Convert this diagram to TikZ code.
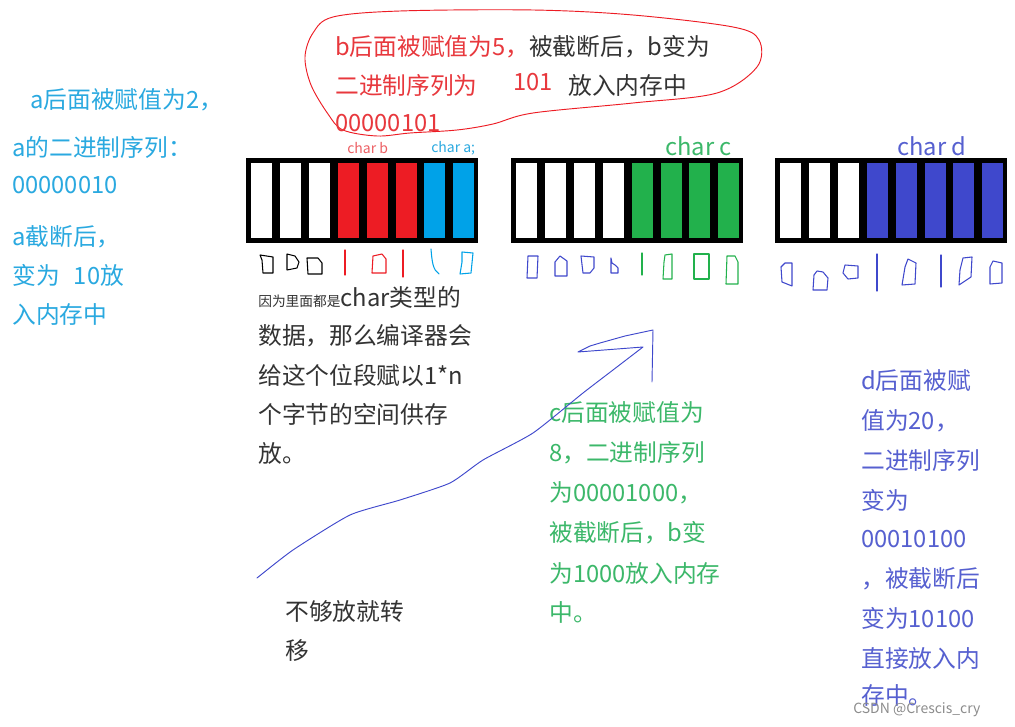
\documentclass[tikz,border=0pt]{standalone}
\usepackage{fontspec}
\setmainfont{Noto Sans CJK SC}
\definecolor{cellred}{HTML}{ED1C24}
\definecolor{cellblue}{HTML}{00A2E8}
\definecolor{cellgreen}{HTML}{22B14C}
\definecolor{celldblue}{HTML}{3F48CC}
\definecolor{txtlblue}{HTML}{2AA9E0}
\definecolor{txtred}{HTML}{E8383D}
\definecolor{txtgreen}{HTML}{3CB86A}
\definecolor{txtdblue}{HTML}{5660D0}
\definecolor{txtblack}{HTML}{333333}
\newcommand\memrow[2]{%
  \fill[black] (#1,158) rectangle ++(232,85);
  \foreach \cc [count=\ii from 0] in {#2} {\fill[\cc] ({#1+5+\ii*28.9},163) rectangle ++(21,75);}
}
\begin{document}
\begin{tikzpicture}[x=0.75pt,y=-0.75pt,
  txt/.style={anchor=west,inner sep=0pt,font=\fontsize{17.8}{20}\selectfont},
  smalltxt/.style={anchor=west,inner sep=0pt,font=\fontsize{10.5}{12}\selectfont},
  pen/.style={line width=0.8pt,line join=round,line cap=round}]
\useasboundingbox[fill=white] (0,0) rectangle (1015,727);

% memory rows
\memrow{246}{white,white,white,cellred,cellred,cellred,cellblue,cellblue}
\memrow{511}{white,white,white,white,cellgreen,cellgreen,cellgreen,cellgreen}
\memrow{775}{white,white,white,celldblue,celldblue,celldblue,celldblue,celldblue}

% row labels
\node[smalltxt,text=txtred!80] (lb) at (347,148) {char b};
\node[smalltxt,text=txtlblue] (la) at (431,148) {char a;};
\node[txt,text=txtgreen] (lc) at (665,146) {char c};
\node[txt,text=txtdblue] (ld) at (897,146) {char d};

% hand-drawn marks under row 1
\draw[pen,black] (260,255)--(273,257)--(273,273)--(263,273)--(262,260)--cycle;
\draw[pen,black] (287,254)--(295,256)--(299,262)--(297,268)--(287,270)--cycle;
\draw[pen,black] (307,258)--(318,258)--(322,263)--(322,274)--(308,274)--cycle;
\draw[pen,cellred] (345,250)--(345,275);
\draw[pen,cellred] (373,256)--(382,254)--(386,259)--(386,273)--(372,273)--cycle;
\draw[pen,cellred] (403,250)--(403,277);
\draw[pen,cellblue] (431,249) .. controls (432,262) and (433,270) .. (439,274);
\draw[pen,cellblue] (462,252)--(473,253)--(471,273)--(460,274)--(462,262)--cycle;
% row 2
\draw[pen,celldblue] (528,256)--(538,256)--(537,278)--(527,278)--cycle;
\draw[pen,celldblue] (555,262)--(560,256)--(567,261)--(567,276)--(555,276)--cycle;
\draw[pen,celldblue] (581,256)--(594,257)--(594,268)--(590,273)--(583,273)--cycle;
\draw[pen,celldblue] (611,258)--(612,263)--(615,265)--(618,268)--(618,273)--(611,273)--cycle;
\draw[pen,cellgreen] (642,253)--(642,275);
\draw[pen,cellgreen] (665,255)--(672,254)--(672,279)--(663,279)--(664,262)--cycle;
\draw[pen,cellgreen] (694,254)--(709,254)--(709,279)--(694,279)--cycle;
\draw[pen,cellgreen] (727,256)--(735,256)--(738,262)--(738,284)--(726,284)--cycle;
% row 3
\draw[pen,celldblue] (785,263)--(792,263)--(792,286)--(782,282)--(781,267)--cycle;
\draw[pen,celldblue] (817,271)--(823,272)--(828,278)--(827,290)--(813,290)--(814,275)--cycle;
\draw[pen,celldblue] (845,265)--(858,266)--(858,278)--(848,279)--(843,273)--cycle;
\draw[pen,celldblue] (877,254)--(877,291);
\draw[pen,celldblue] (908,259)--(916,263)--(915,284)--(902,285)--(905,267)--cycle;
\draw[pen,celldblue] (941,255)--(941,287);
\draw[pen,celldblue] (963,258)--(972,257)--(971,277)--(959,285)--(960,270)--cycle;
\draw[pen,celldblue] (993,261)--(1002,263)--(1002,283)--(990,284)--(990,267)--cycle;

% red hand-drawn ellipse
\draw[pen,cellred,line width=0.7pt] plot[smooth cycle,tension=0.55] coordinates {
 (333,17) (400,11) (533,10) (633,15) (733,27) (759,40) (757,67) (717,93)
 (633,103) (533,113) (493,124) (457,130) (410,133) (377,136) (343,130)
 (328,114) (311,85) (305,57) (313,33)};

% top text
\node[txt,text=txtblack] (t1) at (335,47) {{\color{txtred}b后面被赋值为5，}被截断后，b变为};
\node[txt,text=txtred] (t2) at (335,85) {二进制序列为};
\node[txt,text=txtred] (t2b) at (513,82) {101};
\node[txt,text=txtblack] (t2c) at (568,85) {放入内存中};
\node[txt,text=txtred] (t3) at (335,123) {00000101};

% left text
\node[txt,text=txtlblue] (a1) at (30,100) {a后面被赋值为2，};
\node[txt,text=txtlblue] (a2) at (12,147) {a的二进制序列：};
\node[txt,text=txtlblue] (a3) at (12,185) {00000010};
\node[txt,text=txtlblue] (a4) at (12,237) {a截断后，};
\node[txt,text=txtlblue] (a5) at (12,275) {变为\hspace{0.6em}10放};
\node[txt,text=txtlblue] (a6) at (12,315) {入内存中};

% middle black text
\node[txt,text=txtblack] (m1) at (258,297) {{\fontsize{10.3}{12}\selectfont 因为里面都是}char类型的};
\node[txt,text=txtblack] (m2) at (258,336) {数据，那么编译器会};
\node[txt,text=txtblack] (m3) at (258,375) {给这个位段赋以1*n};
\node[txt,text=txtblack] (m4) at (258,414) {个字节的空间供存};
\node[txt,text=txtblack] (m5) at (258,453) {放。};

% c text
\node[txt,text=txtgreen] (c1) at (549,413) {c后面被赋值为};
\node[txt,text=txtgreen] (c2) at (549,453) {8，二进制序列};
\node[txt,text=txtgreen] (c3) at (549,493) {为00001000，};
\node[txt,text=txtgreen] (c4) at (549,533) {被截断后，b变};
\node[txt,text=txtgreen] (c5) at (549,573) {为1000放入内存};
\node[txt,text=txtgreen] (c6) at (549,612) {中。};

% d text
\node[txt,text=txtdblue] (d1) at (861,381) {d后面被赋};
\node[txt,text=txtdblue] (d2) at (861,421) {值为20，};
\node[txt,text=txtdblue] (d3) at (861,460) {二进制序列};
\node[txt,text=txtdblue] (d4) at (861,500) {变为};
\node[txt,text=txtdblue] (d5) at (861,539) {00010100};
\node[txt,text=txtdblue] (d6) at (861,579) {，被截断后};
\node[txt,text=txtdblue] (d7) at (861,618) {变为10100};
\node[txt,text=txtdblue] (d8) at (861,658) {直接放入内};
\node[txt,text=txtdblue] (d9) at (861,695) {存中。};

% bottom text
\node[txt,text=txtblack] (s1) at (285,611) {不够放就转};
\node[txt,text=txtblack] (s2) at (285,651) {移};

% hand-drawn arrow
\draw[pen,celldblue,line width=0.7pt] plot[smooth,tension=0.35] coordinates {
 (257,578) (293,550) (350,515) (400,500) (450,483) (483,460) (533,433)
 (583,393) (613,370) (643,347)}
 -- (578,352) -- (590,346) -- (600,343) -- (625,336) -- (653,330) -- (652,382);

% watermark
\node[smalltxt,text=black!45,font=\fontsize{10.5}{12}\selectfont] (wm) at (853,710) {CSDN @Crescis\_cry};
\end{tikzpicture}
\end{document}
